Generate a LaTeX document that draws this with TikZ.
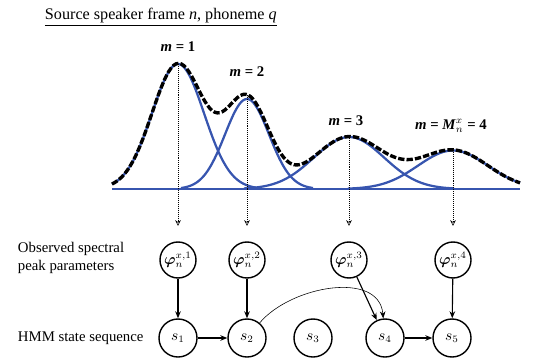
\documentclass[tikz,border=0pt]{standalone}
\usepackage{amsmath, amssymb}
\usepackage{bm}
\usepackage{fontspec}
\setmainfont{Liberation Serif}
\usetikzlibrary{arrows.meta, calc}
\definecolor{peakblue}{RGB}{55, 85, 175}

\tikzset{
  obsnode/.style={draw, circle, line width=1pt, minimum size=0.9cm, inner sep=0pt},
  statenode/.style={draw, circle, line width=1pt, minimum size=0.95cm, inner sep=0pt},
  peakline/.style={densely dotted, ->, >={Stealth[open, length=4pt, width=4pt]}, shorten >=11pt},
  link/.style={->, line width=0.8pt}
}

\begin{document}
\begin{tikzpicture}[x=0.025cm, y=-0.025cm, >={Stealth[length=5pt, width=4pt]},
    font=\fontsize{10.5}{12.5}\selectfont,
    declare function={g(\t,\m,\w,\h)=\h*exp(-0.5*min(((\t-\m)/\w)^2,30));}]
  \useasboundingbox (0,0) rectangle (546,361);

  % title
  \node[anchor=west] (title) at (40,17)
        {\fontsize{11.5}{14}\selectfont\underline{Source speaker frame \textit{n}, phoneme \textit{q}}};

  % spectral peaks
  \draw[peakblue, line width=1.2pt] (112,189) -- (520,189);
  \foreach \m/\w/\h/\a/\b in {178/26/125/112/256, 247/22/90/181/313,
                              349/35/52/244/454, 453/35/38.5/348/520}{
    \draw[peakblue, line width=1.6pt] plot[domain=\a:\b, samples=80]
          (\x, {189-g(\x,\m,\w,\h)});
  }
  \draw[black, line width=2.4pt, dash pattern=on 4.5pt off 1.5pt] plot[domain=112:520, samples=160]
        (\x, {189-g(\x,178,26,125)-g(\x,247,22,90)-g(\x,349,35,52)-g(\x,453,35,38.5)});

  \node (m1) at (178,47) {\textbf{\textit{m} = 1}};
  \node (m2) at (247,72) {\textbf{\textit{m} = 2}};
  \node (m3) at (346,121) {\textbf{\textit{m} = 3}};
  \node (m4) at (451,126) {\textbf{\textit{m} = \textit{M}$^{x}_{n}$ = 4}};

  % observed peak parameters
  \foreach \i/\x/\y in {1/178/64, 2/247/95, 3/349/136, 4/453/150}{
    \node[obsnode] (phi\i) at (\x,260) {$\bm{\varphi}_n^{x,\i}$};
    \coordinate (p\i) at (\x,\y);
    \draw[peakline] (p\i) -- (phi\i);
  }

  % HMM states
  \foreach \i/\x in {1/178, 2/247, 3/313, 4/385, 5/452}{
    \node[statenode] (s\i) at (\x,338) {$s_{\i}$};
  }

  \draw[link] (phi1) -- (s1);
  \draw[link] (phi2) -- (s2);
  \draw[link] (phi3) -- (s4);
  \draw[link] (phi4) -- (s5);
  \draw[link] (s1) -- (s2);
  \draw[link] (s4) -- (s5);
  \draw[->, line width=0.4pt] (s2) to[out=50, in=95] (s4);

  % row labels
  \node[anchor=west, align=left] (obslabel) at (13,258) {Observed spectral\\peak parameters};
  \node[anchor=west] (hmmlabel) at (13,338) {HMM state sequence};
\end{tikzpicture}
\end{document}
